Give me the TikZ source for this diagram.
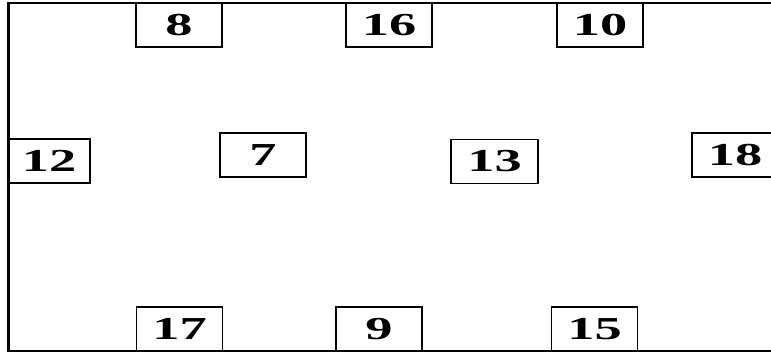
\documentclass[tikz,border=0pt]{standalone}
\usepackage{graphicx}
\usepackage{fontspec}
\setmainfont{Liberation Serif}
\usetikzlibrary{positioning}
\newcommand{\wnum}[1]{\scalebox{1.7}[1]{#1}}

\begin{document}
\begin{tikzpicture}[x=1pt,y=-1pt,
  cell/.style={draw,line width=1.8pt,inner sep=0pt,minimum width=86pt,minimum height=44pt,
    font=\bfseries\fontsize{32}{32}\selectfont},
  wall/.style={line width=2.2pt}]
\useasboundingbox (0,0) rectangle (771,355);
\clip (0,0) rectangle (771,355);
% outer wall, open on the right
\draw[wall] (775,3) -- (8,3) -- (8,351) -- (775,351);
\draw[line width=3pt] (8,3) -- (8,351);
% top row
\node[cell] (c8)  at (179,25) {\wnum{8}};
\node[cell] (c16) at (389,25) {\wnum{16}};
\node[cell] (c10) at (600,25) {\wnum{10}};
% middle row
\node[cell,minimum width=82pt] (c12) at (49,161) {\wnum{12}};
\node[cell] (c7)  at (263,155) {\wnum{7}};
\node[cell,minimum width=87pt] (c13) at (494.5,161.5) {\wnum{13}};
\node[cell] (c18) at (735,155) {\wnum{18}};
% bottom row
\node[cell] (c17) at (179.5,329) {\wnum{17}};
\node[cell] (c9)  at (379,329) {\wnum{9}};
\node[cell] (c15) at (594.5,329) {\wnum{15}};
\end{tikzpicture}
\end{document}
